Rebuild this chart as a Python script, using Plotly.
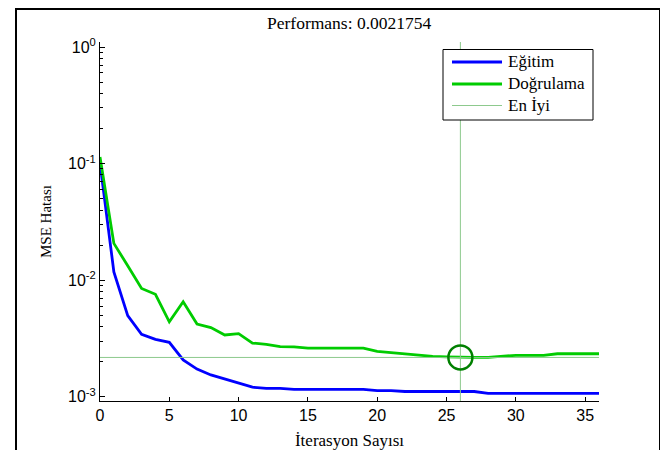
import plotly.graph_objects as go

epochs = list(range(37))
train_mse = [0.101, 0.0118, 0.00496, 0.00344, 0.00311, 0.00293, 0.00207, 0.00173,
             0.00154, 0.00142, 0.0013, 0.00121, 0.00118, 0.00118, 0.00116, 0.00116,
             0.00116, 0.00116, 0.00116, 0.00116, 0.00113, 0.00113, 0.00111, 0.00111,
             0.00111, 0.00111, 0.00111, 0.00111, 0.00107, 0.00107, 0.00107, 0.00107,
             0.00107, 0.00107, 0.00107, 0.00107, 0.00107]
val_mse = [0.114, 0.0207, 0.0133, 0.0085, 0.00757, 0.0044, 0.00654, 0.00421,
           0.00392, 0.00339, 0.00348, 0.00289, 0.00282, 0.00269, 0.00268, 0.00262,
           0.00262, 0.00262, 0.00262, 0.00262, 0.00245, 0.00239, 0.00233, 0.00229,
           0.00222, 0.0022, 0.0021754, 0.00218, 0.00218, 0.00222, 0.00227, 0.00227,
           0.00227, 0.00234, 0.00234, 0.00234, 0.00234]
best_epoch = 26
best_perf = 0.0021754
x_range = [0, 36]
y_log_range = [-3.036, 0.043]

y_tickvals = [1e-3, 1e-2, 1e-1, 1e0]
y_ticktext = ["10<sup>-3</sup>", "10<sup>-2</sup>", "10<sup>-1</sup>", "10<sup>0</sup>"]
x_tickvals = [0, 5, 10, 15, 20, 25, 30, 35]
minor_vals = [m * 10 ** e for e in (-4, -3, -2, -1) for m in range(2, 10)]

legend_names = ["Eğitim", "Doğrulama", "En İyi"]

serif = "Liberation Serif"
sans = "Liberation Sans"
train_color = "#0000ff"
val_color = "#00cc00"
best_line_color = "#8dc98d"
best_marker_color = "#008000"

# plot area in reference pixels: x 100..599, y 42..401
def px(X):
    return (X - 100) / 499


def py(Y):
    return (401 - Y) / 359


fig = go.Figure()
fig.add_trace(go.Scatter(x=epochs, y=train_mse, mode="lines", name=legend_names[0],
                         line=dict(color=train_color, width=2.8)))
fig.add_trace(go.Scatter(x=epochs, y=val_mse, mode="lines", name=legend_names[1],
                         line=dict(color=val_color, width=2.8)))
fig.add_trace(go.Scatter(x=x_range, y=[best_perf, best_perf], mode="lines", name=legend_names[2],
                         line=dict(color=best_line_color, width=1)))
fig.add_trace(go.Scatter(x=[best_epoch, best_epoch],
                         y=[10 ** y_log_range[0], 10 ** y_log_range[1]],
                         mode="lines", showlegend=False,
                         line=dict(color=best_line_color, width=1)))
fig.add_trace(go.Scatter(x=[best_epoch], y=[best_perf], mode="markers", showlegend=False,
                         marker=dict(symbol="circle-open", size=24, color=best_marker_color,
                                     line=dict(width=2.5, color=best_marker_color))))

# legend drawn as a boxed key (shapes + text)
legend_rows = [62, 84, 105.5]
legend_styles = [(train_color, 2.8), (val_color, 2.8), (best_line_color, 1)]
shapes = [
    dict(type="rect", xref="paper", yref="paper",
         x0=px(16), x1=px(660), y0=py(460), y1=py(9),
         line=dict(color="black", width=2), fillcolor="rgba(0,0,0,0)", layer="above"),
    dict(type="rect", xref="paper", yref="paper",
         x0=px(443), x1=px(593), y0=py(120), y1=py(49.5),
         line=dict(color="black", width=1), fillcolor="white", layer="above"),
]
annotations = [
    dict(text="Performans: 0.0021754", xref="paper", yref="paper",
         x=0.5, y=py(23.5), xanchor="center", yanchor="middle",
         showarrow=False, font=dict(family=serif, size=17.5, color="black")),
]
for name, row, (col, w) in zip(legend_names, legend_rows, legend_styles):
    shapes.append(dict(type="line", xref="paper", yref="paper",
                       x0=px(452), x1=px(502), y0=py(row), y1=py(row),
                       line=dict(color=col, width=w), layer="above"))
    annotations.append(dict(text=name, xref="paper", yref="paper",
                            x=px(506), y=py(row - 0.5), xanchor="left", yanchor="middle",
                            showarrow=False,
                            font=dict(family=serif, size=17, color="black")))

# The page body has an 8px default margin, so the figure is 8px smaller
# and its margins are 8px smaller to line up with the reference.
fig.update_layout(
    width=660, height=442,
    margin=dict(l=92, r=69, t=34, b=49, autoexpand=False),
    paper_bgcolor="white", plot_bgcolor="white",
    font=dict(family=serif, color="black"),
    showlegend=False,
    annotations=annotations,
    shapes=shapes,
)

fig.update_xaxes(range=x_range, tickvals=x_tickvals, ticks="inside", ticklen=4,
                 tickcolor="black", showline=True, linecolor="black", linewidth=1,
                 showgrid=False, zeroline=False, automargin=False,
                 tickfont=dict(family=sans, size=16, color="black"),
                 title=dict(text="İterasyon Sayısı", font=dict(family=serif, size=17, color="black"),
                            standoff=10))
fig.update_yaxes(type="log", range=y_log_range, tickmode="array", tickvals=y_tickvals,
                 ticktext=y_ticktext, ticks="inside", ticklen=5, tickcolor="black",
                 showline=True, linecolor="black", linewidth=1,
                 showgrid=False, zeroline=False, automargin=False,
                 tickfont=dict(family=sans, size=16, color="black"),
                 minor=dict(tickmode="array", tickvals=minor_vals, ticks="inside",
                            ticklen=3, tickcolor="black", showgrid=False),
                 title=dict(text="MSE Hatası", font=dict(family=serif, size=15, color="black"),
                            standoff=12))

fig.write_html("out.html")
